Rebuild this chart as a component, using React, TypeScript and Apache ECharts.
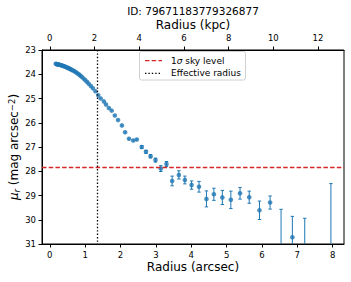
import React, { useEffect, useRef } from "react";
import * as echarts from "echarts";

const TITLE = "ID: 79671183779326877";
const FONT = "DejaVu Sans";

const R_ARCSEC = [
  0.17, 0.19, 0.21, 0.23, 0.25, 0.27, 0.3, 0.32, 0.35, 0.38, 0.41, 0.44, 0.47, 0.5, 0.53, 0.56,
  0.59, 0.62, 0.66, 0.7, 0.74, 0.78, 0.82, 0.86, 0.9, 0.95, 1.0, 1.05, 1.1, 1.16, 1.22, 1.29,
  1.37, 1.44, 1.53, 1.59, 1.67, 1.75, 1.84, 1.93, 2.04, 2.13, 2.24, 2.36, 2.46, 2.6, 2.72, 2.85,
  2.99, 3.14, 3.3, 3.46, 3.65, 3.82, 4.01, 4.22, 4.43, 4.64, 4.88, 5.12, 5.38, 5.64, 5.93, 6.23,
  6.54, 6.86, 7.21, 7.95,
];
const MU = [
  23.57, 23.58, 23.59, 23.6, 23.6, 23.61, 23.62, 23.63, 23.64, 23.66, 23.67, 23.69, 23.71, 23.73,
  23.75, 23.77, 23.79, 23.82, 23.85, 23.88, 23.92, 23.96, 24.0, 24.05, 24.1, 24.17, 24.24, 24.31,
  24.39, 24.48, 24.58, 24.7, 24.87, 25.0, 25.12, 25.25, 25.39, 25.5, 25.7, 25.89, 26.11, 26.39,
  26.66, 26.73, 26.69, 27.0, 27.2, 27.38, 27.54, 27.89, 27.7, 28.4, 28.15, 28.36, 28.57, 28.64,
  29.14, 28.95, 29.08, 29.18, 28.91, 29.07, 29.61, 29.29, 31.4, 30.72, 31.3, 31.6,
];
const MU_ERR = [
  0.01, 0.01, 0.01, 0.01, 0.01, 0.01, 0.01, 0.01, 0.01, 0.01, 0.01, 0.01, 0.01, 0.01, 0.01, 0.01,
  0.01, 0.01, 0.01, 0.01, 0.01, 0.01, 0.01, 0.01, 0.01, 0.01, 0.01, 0.02, 0.02, 0.02, 0.02, 0.02,
  0.02, 0.02, 0.02, 0.03, 0.03, 0.03, 0.03, 0.03, 0.04, 0.04, 0.05, 0.05, 0.05, 0.06, 0.06, 0.07,
  0.08, 0.12, 0.1, 0.2, 0.17, 0.16, 0.17, 0.22, 0.33, 0.25, 0.29, 0.36, 0.24, 0.25, 0.38, 0.27,
  1.83, 0.86, 1.36, 3.09,
];

const SKY_LEVEL = 27.85;
const R_EFF = 1.34;
const KPC_PER_ARCSEC = 1.582;

const X_TICKS = [0, 1, 2, 3, 4, 5, 6, 7, 8];
const KPC_TICKS = [0, 2, 4, 6, 8, 10, 12];
const X_MIN = -0.22;
const X_MAX = 8.32;
const Y_MIN = 23;
const Y_MAX = 31;

const BLUE = "#1f77b4";
const RED = "#d62728";

export default function App() {
  const ref = useRef<HTMLDivElement>(null);
  useEffect(() => {
    if (!ref.current) return;
    const chart = echarts.init(ref.current, null, { renderer: "svg" });
    const data = R_ARCSEC.map((r, i) => [r, MU[i], MU_ERR[i]]);
    const tickLabel = { fontFamily: FONT, fontSize: 8.5, color: "#000" };
    chart.setOption({
      animation: false,
      backgroundColor: "#fff",
      grid: { left: 42, top: 50, width: 302, height: 194, show: true, borderColor: "#000", borderWidth: 1, outerBoundsMode: "none", containLabel: false },
      xAxis: [
        {
          type: "value",
          min: X_MIN,
          max: X_MAX,
          position: "bottom",
          splitLine: { show: false },
          axisLine: { show: true, onZero: false, lineStyle: { color: "#000", width: 1 } },
          axisTick: { show: true, length: 3.5, lineStyle: { color: "#000" }, customValues: X_TICKS },
          axisLabel: { ...tickLabel, margin: 6, customValues: X_TICKS },
          name: "Radius (arcsec)",
          nameLocation: "middle",
          nameGap: 17,
          nameMoveOverlap: false,
          nameTextStyle: { fontFamily: FONT, fontSize: 12, color: "#000", verticalAlign: "top" },
        },
        {
          type: "value",
          min: X_MIN * KPC_PER_ARCSEC,
          max: X_MAX * KPC_PER_ARCSEC,
          position: "top",
          splitLine: { show: false },
          axisLine: { show: true, onZero: false, lineStyle: { color: "#000", width: 1 } },
          axisTick: { show: true, length: 3.5, lineStyle: { color: "#000" }, customValues: KPC_TICKS },
          axisLabel: { ...tickLabel, margin: 8, customValues: KPC_TICKS },
          name: "Radius (kpc)",
          nameLocation: "middle",
          nameGap: 19,
          nameMoveOverlap: false,
          nameTextStyle: { fontFamily: FONT, fontSize: 12, color: "#000", verticalAlign: "bottom" },
        },
      ],
      yAxis: {
        type: "value",
        min: Y_MIN,
        max: Y_MAX,
        interval: 1,
        inverse: true,
        splitLine: { show: false },
        axisLine: { show: true, onZero: false, lineStyle: { color: "#000", width: 1 } },
        axisTick: { show: true, length: 3.5, lineStyle: { color: "#000" } },
        axisLabel: { ...tickLabel, margin: 6 },
        name: "{i|μ}{sub|r} (mag arcsec{sup|−2})",
        nameLocation: "middle",
        nameRotate: 90,
        nameGap: 21,
        nameMoveOverlap: false,
        nameTextStyle: {
          fontFamily: FONT,
          fontSize: 12,
          color: "#000",
          lineHeight: 14,
          rich: {
            i: { fontFamily: FONT, fontSize: 12, fontStyle: "italic", color: "#000", lineHeight: 14 },
            sub: { fontFamily: FONT, fontSize: 8.5, fontStyle: "italic", color: "#000", verticalAlign: "bottom", lineHeight: 9 },
            sup: { fontFamily: FONT, fontSize: 8.5, color: "#000", verticalAlign: "top", lineHeight: 9 },
          },
        },
      },
      series: [
        {
          type: "custom",
          xAxisIndex: 0,
          yAxisIndex: 0,
          clip: true,
          encode: { x: 0, y: 1 },
          data,
          z: 2,
          renderItem: (params: any, api: any) => {
            const x = api.value(0);
            const y = api.value(1);
            const e = api.value(2);
            const lo = y - e;
            const hi = y + e;
            const top = api.coord([x, Math.max(Y_MIN, lo)]);
            const bot = api.coord([x, Math.min(Y_MAX, hi)]);
            const style = { stroke: BLUE, lineWidth: 1 };
            const children: any[] = [
              { type: "line", shape: { x1: top[0], y1: top[1], x2: bot[0], y2: bot[1] }, style },
            ];
            const cw = 1.7;
            if (lo >= Y_MIN && e > 0.05) {
              children.push({ type: "line", shape: { x1: top[0] - cw, y1: top[1], x2: top[0] + cw, y2: top[1] }, style });
            }
            if (hi <= Y_MAX && e > 0.05) {
              children.push({ type: "line", shape: { x1: bot[0] - cw, y1: bot[1], x2: bot[0] + cw, y2: bot[1] }, style });
            }
            return { type: "group", children };
          },
        },
        {
          type: "scatter",
          xAxisIndex: 0,
          yAxisIndex: 0,
          data: data.map((d) => [d[0], d[1]]),
          symbol: "circle",
          symbolSize: 4.6,
          itemStyle: { color: BLUE },
          clip: true,
          z: 3,
          markLine: {
            silent: true,
            symbol: "none",
            label: { show: false },
            animation: false,
            data: [
              { yAxis: SKY_LEVEL, lineStyle: { color: RED, type: [4.5, 2.2], width: 1.3 } },
              { xAxis: R_EFF, lineStyle: { color: "#000", type: [1.4, 2], width: 1.3 } },
            ],
          },
        },
      ],
      graphic: [
        {
          type: "text",
          x: 193,
          y: 10.5,
          style: { text: TITLE, fill: "#000", font: `10.5px '${FONT}'`, textAlign: "center", textVerticalAlign: "middle" },
        },
        {
          type: "rect",
          shape: { x: 139.5, y: 51.5, width: 106, height: 28.5, r: 2 },
          style: { fill: "rgba(255,255,255,0.8)", stroke: "#d0d0d0", lineWidth: 1 },
          z: 10,
        },
        {
          type: "line",
          shape: { x1: 145, y1: 60.7, x2: 162, y2: 60.7 },
          style: { stroke: RED, lineWidth: 1.3, lineDash: [4.5, 2.2] },
          z: 11,
        },
        {
          type: "line",
          shape: { x1: 145, y1: 73.3, x2: 162, y2: 73.3 },
          style: { stroke: "#000", lineWidth: 1.3, lineDash: [1.4, 2] },
          z: 11,
        },
        {
          type: "text",
          x: 171,
          y: 60.7,
          z: 11,
          style: {
            text: "{n|1}{i|σ}{n| sky level}",
            textVerticalAlign: "middle",
            rich: {
              n: { fontFamily: FONT, fontSize: 9, fill: "#000" },
              i: { fontFamily: FONT, fontSize: 9, fontStyle: "italic", fill: "#000" },
            },
          },
        },
        {
          type: "text",
          x: 171,
          y: 73.3,
          z: 11,
          style: { text: "Effective radius", fill: "#000", font: `9px '${FONT}'`, textVerticalAlign: "middle" },
        },
      ],
    });
    return () => chart.dispose();
  }, []);
  return (
    <div
      ref={ref}
      style={{ position: "fixed", left: 0, top: 0, width: 351, height: 282, background: "#fff" }}
    />
  );
}
